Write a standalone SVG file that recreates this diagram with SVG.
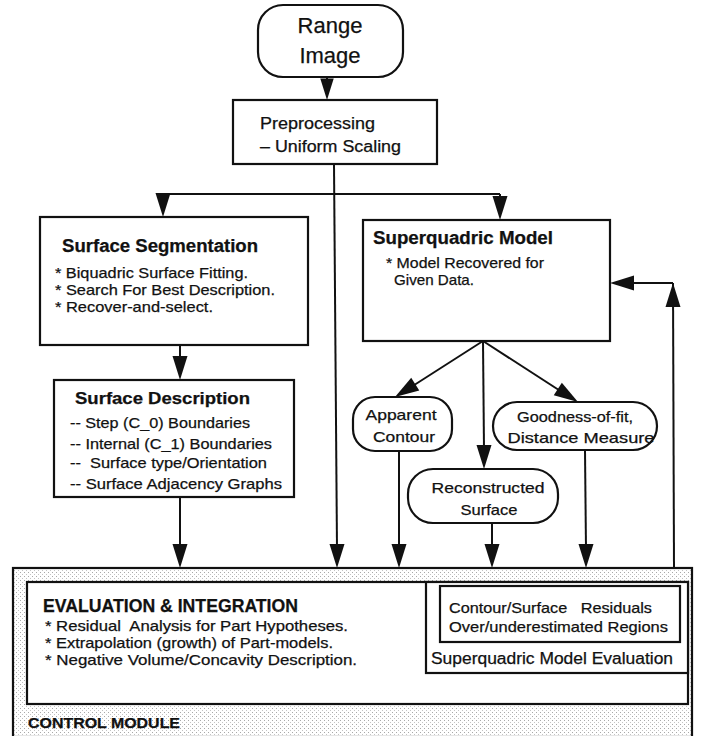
<svg xmlns="http://www.w3.org/2000/svg" xmlns:xlink="http://www.w3.org/1999/xlink" width="702" height="736" viewBox="0 0 702 736">
<style>
text{font-family:"Liberation Sans",Arial,Helvetica,sans-serif;fill:#111;stroke:#111;stroke-width:0.25;white-space:pre;}
.box{fill:#fff;stroke:#111;stroke-width:2.2;}
.ln{fill:none;stroke:#111;stroke-width:2;}
.t{font-size:15px;}
.h{font-size:18px;font-weight:bold;}
.c{text-anchor:middle;}
.hd{fill:#111;}
</style>
<defs>
<path id="hd" d="M0,0 L-7.5,-24 L7.5,-24 z"/>
<pattern id="stip" width="4" height="4" patternUnits="userSpaceOnUse">
<rect width="4" height="4" fill="#fff"/>
<rect x="0" y="0" width="1" height="1" fill="#a8a8a8"/>
<rect x="2" y="2" width="1" height="1" fill="#c4c4c4"/>
</pattern>
</defs>

<g id="control-module">
<rect x="13" y="568" width="679" height="169" fill="url(#stip)" stroke="#111" stroke-width="2.2"/>
<text x="28" y="728" font-size="14" font-weight="bold" textLength="152" lengthAdjust="spacingAndGlyphs">CONTROL MODULE</text>
</g>

<g id="evaluation-integration">
<rect class="box" x="27" y="582" width="661" height="122"/>
<text class="h" x="43" y="612" textLength="255" lengthAdjust="spacingAndGlyphs">EVALUATION &amp; INTEGRATION</text>
<text class="t" x="45" y="631" textLength="303" lengthAdjust="spacingAndGlyphs" xml:space="preserve">* Residual  Analysis for Part Hypotheses.</text>
<text class="t" x="45" y="648" textLength="288" lengthAdjust="spacingAndGlyphs">* Extrapolation (growth) of Part-models.</text>
<text class="t" x="45" y="665" textLength="312" lengthAdjust="spacingAndGlyphs">* Negative Volume/Concavity Description.</text>
</g>

<g id="sq-model-evaluation">
<rect class="box" x="426" y="582" width="262" height="91"/>
<rect class="box" x="440" y="586" width="240" height="56"/>
<text class="t" x="449" y="613" textLength="203" lengthAdjust="spacingAndGlyphs" xml:space="preserve">Contour/Surface   Residuals</text>
<text class="t" x="449" y="632" textLength="219" lengthAdjust="spacingAndGlyphs">Over/underestimated Regions</text>
<text x="431" y="664" font-size="16" textLength="242" lengthAdjust="spacingAndGlyphs">Superquadric Model Evaluation</text>
</g>

<g id="range-image">
<rect class="box" x="258" y="5" width="145" height="72" rx="25" ry="25"/>
<text class="c" x="330" y="33" font-size="22">Range</text>
<text class="c" x="330" y="63" font-size="22">Image</text>
</g>

<g id="preprocessing">
<rect class="box" x="233" y="100" width="204" height="64"/>
<text x="260" y="129" font-size="16" textLength="115" lengthAdjust="spacingAndGlyphs">Preprocessing</text>
<text x="260" y="152" font-size="16" textLength="141" lengthAdjust="spacingAndGlyphs">– Uniform Scaling</text>
</g>

<g id="surface-segmentation">
<rect class="box" x="40" y="217" width="268" height="128"/>
<text class="h" x="62" y="252" textLength="196" lengthAdjust="spacingAndGlyphs">Surface Segmentation</text>
<text class="t" x="55" y="278" textLength="193" lengthAdjust="spacingAndGlyphs">* Biquadric Surface Fitting.</text>
<text class="t" x="55" y="295" textLength="220" lengthAdjust="spacingAndGlyphs">* Search For Best Description.</text>
<text class="t" x="55" y="312" textLength="158" lengthAdjust="spacingAndGlyphs">* Recover-and-select.</text>
</g>

<g id="superquadric-model">
<rect class="box" x="363" y="220" width="247" height="121"/>
<text class="h" x="373" y="244" textLength="180" lengthAdjust="spacingAndGlyphs">Superquadric Model</text>
<text class="t" x="386" y="268" textLength="158" lengthAdjust="spacingAndGlyphs">* Model Recovered for</text>
<text class="t" x="394" y="285" textLength="80" lengthAdjust="spacingAndGlyphs">Given Data.</text>
</g>

<g id="surface-description">
<rect class="box" x="54" y="380" width="240" height="117"/>
<text x="75" y="404" font-size="17" font-weight="bold" textLength="175" lengthAdjust="spacingAndGlyphs">Surface Description</text>
<text class="t" x="70" y="428" textLength="180" lengthAdjust="spacingAndGlyphs">-- Step (C_0) Boundaries</text>
<text class="t" x="70" y="449" textLength="202" lengthAdjust="spacingAndGlyphs">-- Internal (C_1) Boundaries</text>
<text class="t" x="70" y="468" textLength="197" lengthAdjust="spacingAndGlyphs" xml:space="preserve">--  Surface type/Orientation</text>
<text class="t" x="70" y="489" textLength="212" lengthAdjust="spacingAndGlyphs">-- Surface Adjacency Graphs</text>
</g>

<g id="apparent-contour">
<rect class="box" x="353" y="397" width="99" height="54" rx="22" ry="22"/>
<text class="t c" x="401" y="420" textLength="71" lengthAdjust="spacingAndGlyphs">Apparent</text>
<text class="t c" x="404" y="442" textLength="62" lengthAdjust="spacingAndGlyphs">Contour</text>
</g>

<g id="goodness-of-fit">
<rect class="box" x="493" y="402" width="164" height="48" rx="24" ry="24"/>
<text class="t c" x="575" y="422" textLength="116" lengthAdjust="spacingAndGlyphs">Goodness-of-fit,</text>
<text class="t c" x="581" y="443" textLength="147" lengthAdjust="spacingAndGlyphs">Distance Measure</text>
</g>

<g id="reconstructed-surface">
<rect class="box" x="408" y="469" width="150" height="54" rx="25" ry="25"/>
<text class="t c" x="488" y="493" textLength="113" lengthAdjust="spacingAndGlyphs">Reconstructed</text>
<text class="t c" x="489" y="515" textLength="57" lengthAdjust="spacingAndGlyphs">Surface</text>
</g>

<g id="connectors">
<line class="ln" x1="327" y1="77" x2="327" y2="90"/>
<use xlink:href="#hd" class="hd" transform="translate(327,100) scale(0.9)"/>
<line class="ln" x1="334" y1="164" x2="337" y2="550"/>
<use xlink:href="#hd" class="hd" transform="translate(337,568)"/>
<polyline class="ln" points="163,194 500,194"/>
<line class="ln" x1="163" y1="194" x2="163" y2="200"/>
<use xlink:href="#hd" class="hd" transform="translate(163,217)"/>
<line class="ln" x1="500" y1="194" x2="500" y2="200"/>
<use xlink:href="#hd" class="hd" transform="translate(500,220)"/>
<line class="ln" x1="180" y1="345" x2="180" y2="362"/>
<use xlink:href="#hd" class="hd" transform="translate(180,380)"/>
<line class="ln" x1="180" y1="497" x2="180" y2="550"/>
<use xlink:href="#hd" class="hd" transform="translate(180,568)"/>
<line class="ln" x1="483" y1="341" x2="408" y2="389"/>
<use xlink:href="#hd" class="hd" transform="translate(395,397) rotate(57.5)"/>
<line class="ln" x1="483" y1="341" x2="484" y2="450"/>
<use xlink:href="#hd" class="hd" transform="translate(484,469)"/>
<line class="ln" x1="483" y1="341" x2="565" y2="394"/>
<use xlink:href="#hd" class="hd" transform="translate(578,402) rotate(-57.3)"/>
<line class="ln" x1="399" y1="451" x2="399" y2="550"/>
<use xlink:href="#hd" class="hd" transform="translate(399,568)"/>
<line class="ln" x1="492" y1="523" x2="492" y2="550"/>
<use xlink:href="#hd" class="hd" transform="translate(492,568)"/>
<line class="ln" x1="585" y1="450" x2="586" y2="550"/>
<use xlink:href="#hd" class="hd" transform="translate(586,568)"/>
<line class="ln" x1="674" y1="568" x2="673" y2="283"/>
<use xlink:href="#hd" class="hd" transform="translate(673,283) rotate(180)"/>
<line class="ln" x1="673" y1="283" x2="625" y2="283"/>
<use xlink:href="#hd" class="hd" transform="translate(610,283) rotate(90)"/>
</g>
</svg>
